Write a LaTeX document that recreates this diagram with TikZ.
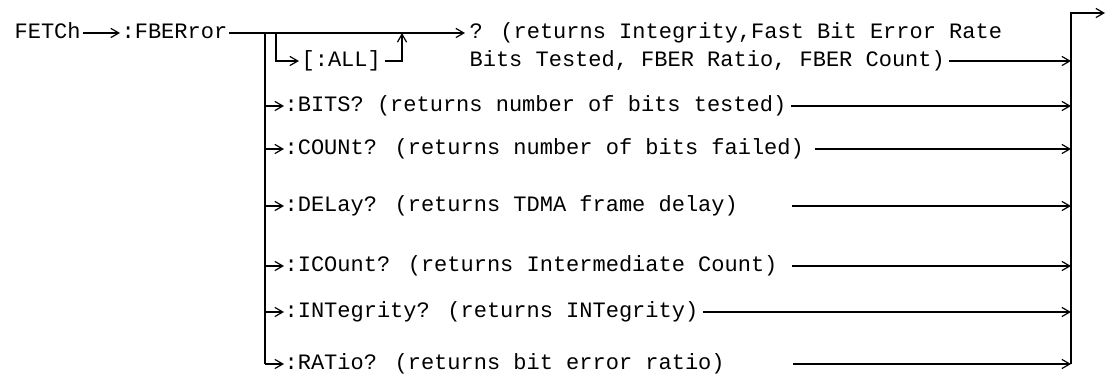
\documentclass[tikz,border=0pt]{standalone}
\usepackage{fontspec}
\newfontfamily\railmono{Liberation Mono}
\usetikzlibrary{arrows.meta}
\begin{document}
\begin{tikzpicture}[x=0.5pt,y=-0.5pt,
  line width=0.6pt,
  txt/.style={anchor=west, inner sep=0pt, font=\railmono\fontsize{11pt}{14pt}\selectfont, text height=6pt, text depth=0pt},
  arr/.style={-{Straight Barb[length=4pt,width=4.6pt]}}]
\useasboundingbox (0,0) rectangle (1106,378);
% text nodes
\node[txt] (fetch) at (14,33) {FETCh};
\node[txt] (fber) at (121,33) {:FBERror};
\node[txt] (q1) at (469,33) {? (returns Integrity,Fast Bit Error Rate};
\node[txt] (q2) at (469,61) {Bits Tested, FBER Ratio, FBER Count)};
\node[txt] (all) at (301,61) {[:ALL]};
\node[txt] (bits) at (284,106) {:BITS? (returns number of bits tested)};
\node[txt] (count) at (284,149) {:COUNt? (returns number of bits failed)};
\node[txt] (delay) at (284,206) {:DELay? (returns TDMA frame delay)};
\node[txt] (icount) at (284,266) {:ICOunt? (returns Intermediate Count)};
\node[txt] (integ) at (284,312) {:INTegrity? (returns INTegrity)};
\node[txt] (ratio) at (284,364) {:RATio? (returns bit error ratio)};
% helper coordinates
\coordinate (vl) at (265,33);
\coordinate (al) at (276,33);
\coordinate (up) at (402,33);
\coordinate (rt) at (1071,13);
\coordinate (rbot) at (1071,364);
\coordinate (out) at (1105,13);
% main line
\draw[arr] ([xshift=1pt]fetch.east) -- ([xshift=-0.5pt]fber.west);
\draw[arr] ([xshift=0.5pt]fber.east) -- ([xshift=-2pt]q1.west);
% [:ALL] branch
\draw[arr] (al) |- ([xshift=-1pt]all.west);
\draw[arr] ([xshift=2pt]all.east) -| (up);
% left rail
\draw (vl) -- (vl |- ratio);
\draw[arr] (vl |- bits) -- (bits.west);
\draw[arr] (vl |- count) -- (count.west);
\draw[arr] (vl |- delay) -- (delay.west);
\draw[arr] (vl |- icount) -- (icount.west);
\draw[arr] (vl |- integ) -- (integ.west);
\draw[arr] (vl |- ratio) -- (ratio.west);
% right rail
\draw[arr] ([xshift=2pt]q2.east) -- (q2 -| rt);
\draw[arr] ([xshift=2pt]bits.east) -- (bits -| rt);
\draw[arr] ([xshift=5pt]count.east) -- (count -| rt);
\draw[arr] ([xshift=27pt]delay.east) -- (delay -| rt);
\draw[arr] ([xshift=7pt]icount.east) -- (icount -| rt);
\draw[arr] ([xshift=2pt]integ.east) -- (integ -| rt);
\draw[arr] ([xshift=34pt]ratio.east) -- (ratio -| rt);
\draw[arr] (rbot) -- (rt) -- (out);
\end{tikzpicture}
\end{document}
